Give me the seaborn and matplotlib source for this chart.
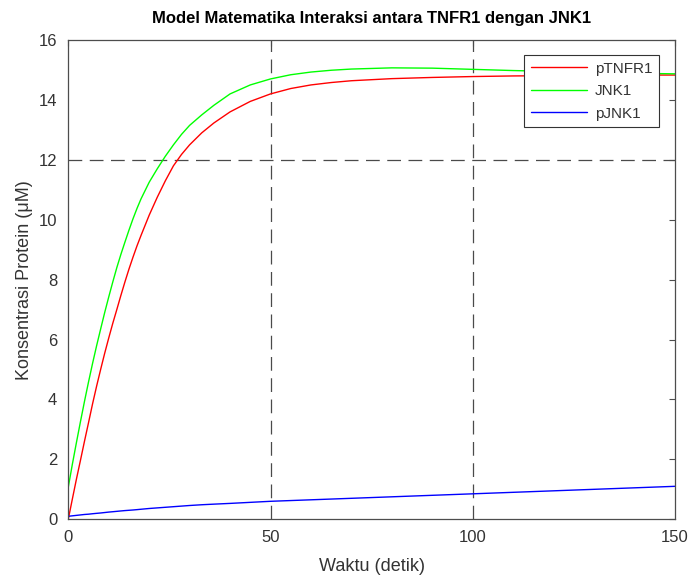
import pandas as pd
import seaborn as sns
import matplotlib
matplotlib.use("Agg")
import matplotlib.pyplot as plt

# # DATA

waktu = [0, 1, 2, 3, 4, 5, 6, 7, 8, 9, 10, 11, 12, 13, 14, 15, 16, 17, 18,
         20, 22, 24, 26, 28, 30, 33, 36, 40, 45, 50, 55, 60, 65, 70, 80, 90,
         100, 110, 120, 130, 140, 150]

ptnfr1 = [0.0, 0.67, 1.33, 1.96, 2.6, 3.22, 3.85, 4.44, 5.0, 5.54, 6.05,
          6.54, 7.0, 7.47, 7.92, 8.35, 8.75, 9.13, 9.48, 10.15, 10.75, 11.3,
          11.8, 12.18, 12.5, 12.9, 13.23, 13.6, 13.95, 14.2, 14.38, 14.5,
          14.58, 14.64, 14.71, 14.75, 14.78, 14.8, 14.81, 14.82, 14.83, 14.83]

jnk1 = [1.07, 1.83, 2.55, 3.25, 3.93, 4.58, 5.2, 5.79, 6.35, 6.9, 7.42, 7.92,
        8.4, 8.84, 9.25, 9.65, 10.03, 10.38, 10.7, 11.25, 11.7, 12.12, 12.5,
        12.85, 13.15, 13.5, 13.82, 14.2, 14.5, 14.7, 14.84, 14.93, 14.99,
        15.03, 15.07, 15.06, 15.02, 14.98, 14.95, 14.92, 14.89, 14.87]

pjnk1 = [0.1, 0.115, 0.13, 0.145, 0.16, 0.17, 0.185, 0.198, 0.21, 0.225,
         0.24, 0.252, 0.265, 0.278, 0.29, 0.3, 0.31, 0.322, 0.335, 0.36,
         0.38, 0.4, 0.42, 0.44, 0.46, 0.485, 0.505, 0.53, 0.565, 0.6, 0.625,
         0.65, 0.675, 0.7, 0.75, 0.8, 0.85, 0.9, 0.95, 1.0, 1.05, 1.1]

series_names = ["pTNFR1", "JNK1", "pJNK1"]
series_colors = {"pTNFR1": "#ff0000", "JNK1": "#00ff00", "pJNK1": "#0000ff"}

x_ticks = [0, 50, 100, 150]
y_ticks = [0, 2, 4, 6, 8, 10, 12, 14, 16]
ref_x = [50, 100]
ref_y = [12]

# # BUILD LONG TABLE

frames = []
for name, vals in zip(series_names, [ptnfr1, jnk1, pjnk1]):
    frames.append(pd.DataFrame({"Waktu": waktu, "Konsentrasi": vals, "Protein": name}))
data = pd.concat(frames, ignore_index=True)

# # STYLE

sns.set_theme(style="white")
plt.rcParams["font.family"] = ["Liberation Sans", "DejaVu Sans"]

fig = plt.figure(figsize=(6.91, 5.78), dpi=100)
ax = fig.add_axes([0.0988, 0.1016, 0.878, 0.8292])

# reference dashed lines
for xv in ref_x:
    ax.axvline(xv, color="#4a4a4a", lw=0.9, linestyle=(0, (11, 6)), zorder=1)
for yv in ref_y:
    ax.axhline(yv, color="#4a4a4a", lw=0.9, linestyle=(0, (11, 6)), zorder=1)

sns.lineplot(data=data, x="Waktu", y="Konsentrasi", hue="Protein",
             hue_order=series_names, palette=series_colors, linewidth=1.0,
             ax=ax, zorder=2)

ax.set_xlim(0, 150)
ax.set_ylim(0, 16)
ax.set_xticks(x_ticks)
ax.set_yticks(y_ticks)
ax.tick_params(axis="both", which="both", direction="in", length=4, width=0.8,
               colors="#4d4d4d", labelcolor="#333333", labelsize=12,
               top=True, right=True, pad=8)
for side in ["left", "right", "top", "bottom"]:
    ax.spines[side].set_visible(True)
    ax.spines[side].set_color("#4d4d4d")
    ax.spines[side].set_linewidth(0.9)

ax.set_xlabel("Waktu (detik)", fontsize=13, color="#333333", labelpad=9)
ax.set_ylabel("Konsentrasi Protein (\u03bcM)", fontsize=13, color="#333333", labelpad=4)
ax.set_title("Model Matematika Interaksi antara TNFR1 dengan JNK1",
             fontsize=12, fontweight="bold", color="#000000", pad=12)

leg = ax.legend(loc="upper right", bbox_to_anchor=(0.974, 0.969), fontsize=11,
                frameon=True, fancybox=False, framealpha=1, borderpad=0.45,
                handlelength=3.7, handletextpad=0.5, labelspacing=0.55,
                borderaxespad=0)
leg.get_frame().set_edgecolor("#333333")
leg.get_frame().set_linewidth(0.8)
for t in leg.get_texts():
    t.set_color("#333333")

plt.savefig("out.png", dpi=100)
plt.close()
